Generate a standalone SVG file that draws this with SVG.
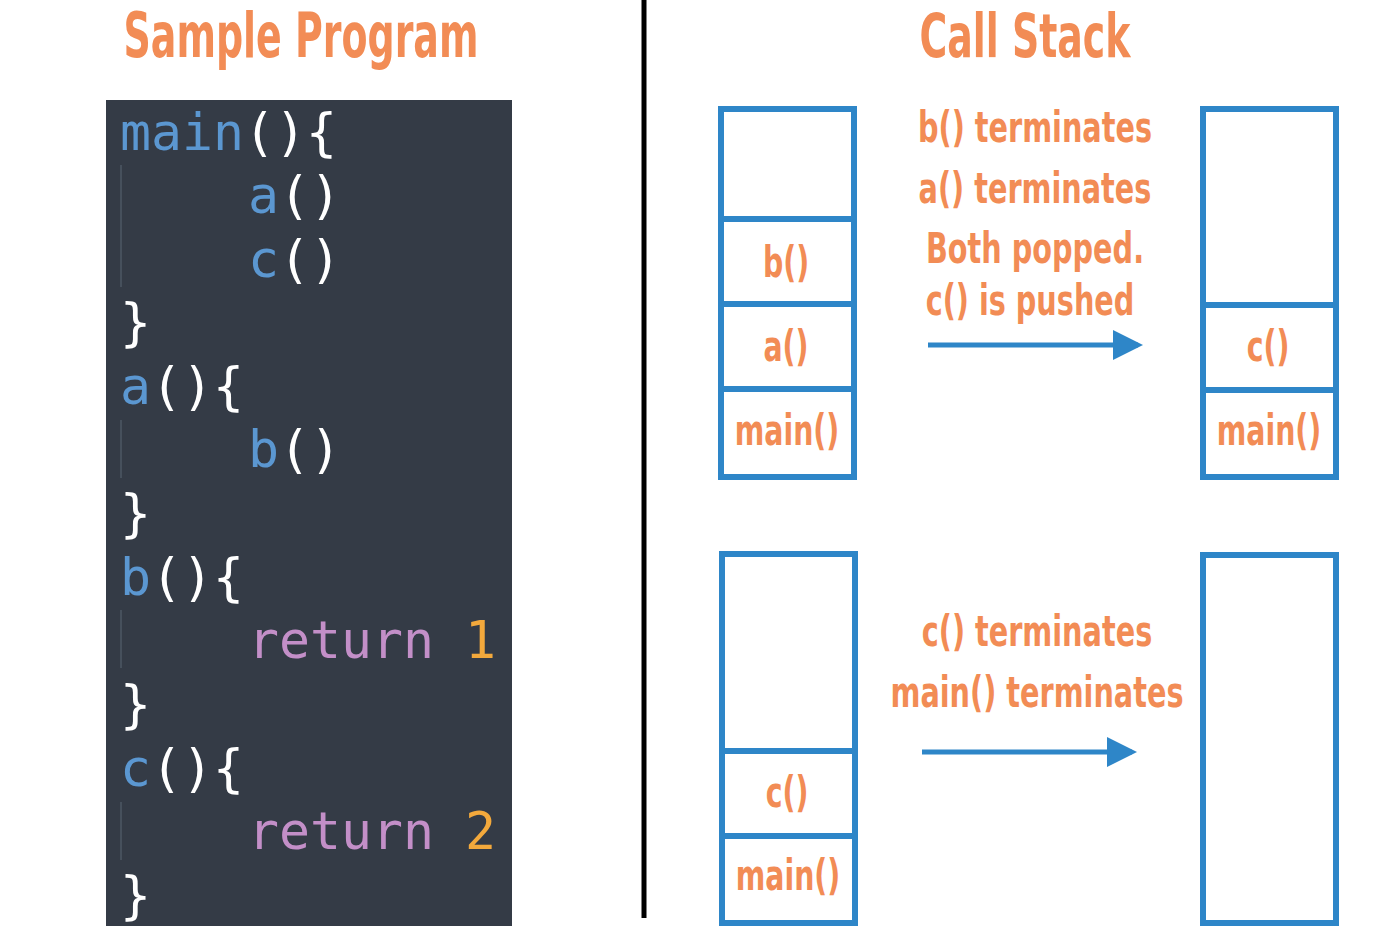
<svg xmlns="http://www.w3.org/2000/svg" width="1400" height="936" viewBox="0 0 1400 936">
<style>
.h{font-family:"DejaVu Sans",sans-serif;font-stretch:condensed;font-weight:bold;fill:#f28c55;text-anchor:middle}
.code{font-family:"DejaVu Sans Mono",monospace;font-size:51.5px}
.bl{fill:#5b97d1}.w{fill:#fff}.p{fill:#c38fc8}.o{fill:#f3a93c}
.box{fill:#fff;stroke:#2e86c8;stroke-width:6}
.lbl{font-size:42px}
.note{font-size:42px}
</style>
<defs><marker id="ah" markerWidth="6" markerHeight="6" refX="5" refY="3" orient="auto"><path d="M0,0L6,3L0,6z" fill="#2e86c8"/></marker></defs>
<rect width="1400" height="936" fill="#fff"/>
<text class="h" font-size="62" transform="translate(301,57) scale(0.68,1)">Sample Program</text>
<text class="h" font-size="61" transform="translate(1025,57) scale(0.69,1)">Call Stack</text>
<line x1="644" y1="0" x2="644" y2="918" stroke="#000" stroke-width="5"/>
<g id="code">
<rect x="106" y="100" width="406" height="826" fill="#343b46"/>
<g stroke="#46505c" stroke-width="2"><line x1="121" y1="165" x2="121" y2="287"/><line x1="121" y1="420" x2="121" y2="478"/><line x1="121" y1="610" x2="121" y2="668"/><line x1="121" y1="802" x2="121" y2="860"/></g>
<text class="code" x="120" y="150"><tspan class="bl">main</tspan><tspan class="w">(){</tspan></text>
<text class="code" x="248" y="213"><tspan class="bl">a</tspan><tspan class="w">()</tspan></text>
<text class="code" x="248" y="277"><tspan class="bl">c</tspan><tspan class="w">()</tspan></text>
<text class="code w" x="120" y="340">}</text>
<text class="code" x="120" y="404"><tspan class="bl">a</tspan><tspan class="w">(){</tspan></text>
<text class="code" x="248" y="467"><tspan class="bl">b</tspan><tspan class="w">()</tspan></text>
<text class="code w" x="120" y="531">}</text>
<text class="code" x="120" y="595"><tspan class="bl">b</tspan><tspan class="w">(){</tspan></text>
<text class="code" x="248" y="658"><tspan class="p">return </tspan><tspan class="o">1</tspan></text>
<text class="code w" x="120" y="722">}</text>
<text class="code" x="120" y="786"><tspan class="bl">c</tspan><tspan class="w">(){</tspan></text>
<text class="code" x="248" y="849"><tspan class="p">return </tspan><tspan class="o">2</tspan></text>
<text class="code w" x="120" y="913">}</text>
</g>
<g id="stack1">
<rect class="box" x="721" y="109" width="133" height="110"/>
<rect class="box" x="721" y="219" width="133" height="85"/>
<rect class="box" x="721" y="304" width="133" height="85"/>
<rect class="box" x="721" y="389" width="133" height="88"/>
<text class="h lbl" transform="translate(786,277) scale(0.75,1)">b()</text>
<text class="h lbl" transform="translate(786,361) scale(0.75,1)">a()</text>
<text class="h lbl" transform="translate(787,445) scale(0.75,1)">main()</text>
</g>
<g id="stack2">
<rect class="box" x="1203" y="109" width="133" height="196"/>
<rect class="box" x="1203" y="305" width="133" height="85"/>
<rect class="box" x="1203" y="390" width="133" height="87"/>
<text class="h lbl" transform="translate(1268,361) scale(0.75,1)">c()</text>
<text class="h lbl" transform="translate(1269,445) scale(0.75,1)">main()</text>
</g>
<g id="stack3">
<rect class="box" x="722" y="554" width="133" height="197"/>
<rect class="box" x="722" y="751" width="133" height="85"/>
<rect class="box" x="722" y="836" width="133" height="87"/>
<text class="h lbl" transform="translate(787,807) scale(0.75,1)">c()</text>
<text class="h lbl" transform="translate(788,890) scale(0.75,1)">main()</text>
</g>
<g id="stack4">
<rect class="box" x="1203" y="555" width="133" height="368"/>
</g>
<g id="notes">
<text class="h note" transform="translate(1035,142) scale(0.76,1)">b() terminates</text>
<text class="h note" transform="translate(1035,203) scale(0.76,1)">a() terminates</text>
<text class="h note" transform="translate(1035,263) scale(0.76,1)">Both popped.</text>
<text class="h note" transform="translate(1030,315) scale(0.76,1)">c() is pushed</text>
<text class="h note" transform="translate(1037,646) scale(0.76,1)">c() terminates</text>
<text class="h note" transform="translate(1037,707) scale(0.76,1)">main() terminates</text>
</g>
<g id="connectors" stroke="#2e86c8" stroke-width="5" fill="none">
<line x1="928" y1="345" x2="1138" y2="345" marker-end="url(#ah)"/>
<line x1="922" y1="752" x2="1132" y2="752" marker-end="url(#ah)"/>
</g>
</svg>
